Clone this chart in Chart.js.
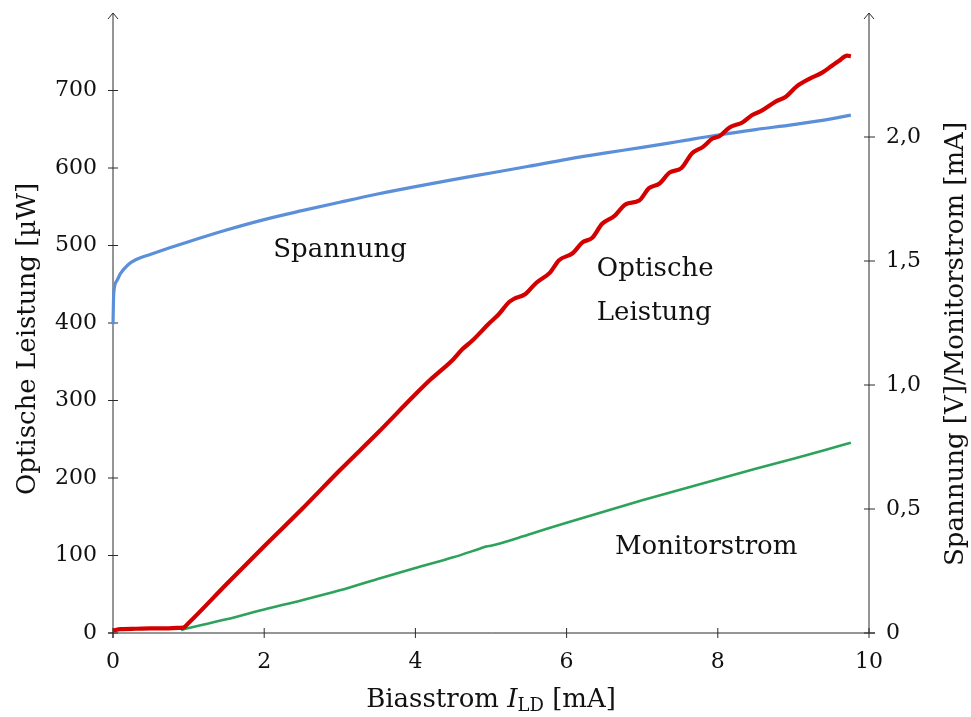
<!DOCTYPE html>
<html>
<head>
<meta charset="utf-8">
<script src="https://cdn.jsdelivr.net/npm/chart.js@4/dist/chart.umd.min.js"></script>
<style>
  html, body { margin: 0; padding: 0; background: #fff; }
  canvas { display: block; }
</style>
</head>
<body>
<canvas id="chart" width="971" height="717"></canvas>
<script>
// Laser diode characteristic: optical output power, forward voltage and
// monitor photodiode current versus bias current.

// Optical power [µW] (left axis)
const biasOptical = [0, 0.1, 0.3, 0.5, 0.7, 0.85, 0.93, 1.0, 1.5, 2.0, 2.5, 3.0, 3.5, 4.0, 4.2, 4.5,
  4.62, 4.75, 4.98, 5.1, 5.24, 5.3, 5.45, 5.6, 5.78, 5.9, 6.08, 6.21, 6.34, 6.47, 6.63, 6.78, 6.96,
  7.09, 7.23, 7.36, 7.52, 7.66, 7.8, 7.93, 8.02, 8.15, 8.33, 8.45, 8.58, 8.77, 8.9, 9.04, 9.21,
  9.38, 9.51, 9.6, 9.71, 9.76];
const opticalPower = [3, 5, 5.5, 6, 6, 6.5, 7, 13, 63, 112, 160, 210, 258, 308, 327, 353,
  366, 377, 400, 411, 427, 431, 437, 452, 465, 481, 490, 504, 510, 528, 538, 553, 558,
  574, 580, 594, 600, 619, 627, 638, 641, 652, 659, 668, 674, 686, 692, 705, 715,
  723, 732, 738, 745, 744];

// Forward voltage [V] (right axis)
const biasVoltage = [0, 0.01, 0.05, 0.1, 0.2, 0.3, 0.5, 0.75, 1.0, 1.5, 2.0, 2.5, 3.0, 3.5,
  4.0, 4.5, 5.0, 5.5, 6.0, 6.5, 7.0, 7.5, 8.0, 8.5, 9.0, 9.5, 9.76];
const voltage = [1.245, 1.37, 1.42, 1.45, 1.485, 1.505, 1.527, 1.553, 1.578, 1.625, 1.667,
  1.703, 1.737, 1.77, 1.80, 1.828, 1.855, 1.882, 1.91, 1.935, 1.958, 1.983, 2.008, 2.03, 2.05,
  2.073, 2.088];

// Monitor current [mA] (right axis)
const biasMonitor = [0.9, 1.0, 1.5, 2.0, 2.5, 3.0, 3.5, 4.0, 4.5, 4.85, 4.95, 5.0, 5.5, 6.0, 6.5,
  7.0, 7.5, 8.0, 8.5, 9.0, 9.5, 9.76];
const monitorCurrent = [0.012, 0.02, 0.055, 0.095, 0.132, 0.172, 0.218, 0.262, 0.305, 0.34,
  0.35, 0.352, 0.397, 0.445, 0.49, 0.535, 0.578, 0.62, 0.662, 0.703, 0.745, 0.767];

// Axis tick labels
const xTickLabels = ['0', '2', '4', '6', '8', '10'];
const leftTickLabels = ['0', '100', '200', '300', '400', '500', '600', '700'];
const rightTickLabels = ['0', '0,5', '1,0', '1,5', '2,0'];

const SERIF = "'DejaVu Serif', serif";
const TEXT = '#111';

function pairs(xs, ys) { return xs.map((v, i) => ({ x: v, y: ys[i] })); }

// Axis lines with arrow tips, crossing tick marks, titles and curve labels
const axesPlugin = {
  id: 'axesPlugin',
  beforeDatasetsDraw(chart) {
    const { ctx, chartArea: a, scales } = chart;
    const sx = scales.x, sl = scales.y, sr = scales.y1;
    const xL = sx.getPixelForValue(0), xR = sx.getPixelForValue(10);
    const yB = sl.getPixelForValue(0), yT = a.top;
    ctx.save();
    ctx.strokeStyle = '#2a2a2a';
    ctx.lineWidth = 1;
    const seg = (x1, y1, x2, y2) => { ctx.beginPath(); ctx.moveTo(x1, y1); ctx.lineTo(x2, y2); ctx.stroke(); };
    // axis lines
    seg(xL - 5, yB, xR + 6, yB);
    seg(xL, yB + 5, xL, yT);
    seg(xR, yB, xR, yT);
    // arrow tips
    [xL, xR].forEach(px => {
      ctx.beginPath();
      ctx.moveTo(px - 5, yT + 6); ctx.lineTo(px, yT); ctx.lineTo(px + 5, yT + 6);
      ctx.stroke();
    });
    // tick marks crossing the axes
    sx.ticks.forEach(t => { const p = sx.getPixelForValue(t.value); seg(p, yB - 5, p, yB + 5); });
    sl.ticks.forEach(t => { const p = sl.getPixelForValue(t.value); seg(xL - 5, p, xL + 5, p); });
    sr.ticks.forEach(t => { const p = sr.getPixelForValue(t.value); seg(xR - 5, p, xR + 6, p); });
    ctx.restore();
  },
  afterDraw(chart) {
    const { ctx, chartArea: a, scales } = chart;
    const sx = scales.x, sl = scales.y;
    ctx.save();
    ctx.fillStyle = TEXT;
    ctx.textBaseline = 'middle';

    // x-axis title: Biasstrom I_LD [mA]
    const main = '26px ' + SERIF, ital = 'italic 26px ' + SERIF, sub = '18px ' + SERIF;
    const parts = [
      { t: 'Biasstrom ', f: main, dy: 0 },
      { t: 'I', f: ital, dy: 0 },
      { t: 'LD', f: sub, dy: 6 },
      { t: ' [mA]', f: main, dy: 0 }
    ];
    let total = 0;
    parts.forEach(p => { ctx.font = p.f; p.w = ctx.measureText(p.t).width; total += p.w; });
    let cx = (a.left + a.right) / 2 - total / 2;
    const ty = 700;
    ctx.textAlign = 'left';
    parts.forEach(p => { ctx.font = p.f; ctx.fillText(p.t, cx, ty + p.dy); cx += p.w; });

    // left y title
    ctx.font = main;
    ctx.textAlign = 'center';
    ctx.save();
    ctx.translate(28, 339);
    ctx.rotate(-Math.PI / 2);
    ctx.fillText('Optische Leistung [µW]', 0, 0);
    ctx.restore();

    // right y title
    ctx.save();
    ctx.translate(956, 344);
    ctx.rotate(-Math.PI / 2);
    ctx.fillText('Spannung [V]/Monitorstrom [mA]', 0, 0);
    ctx.restore();

    // curve labels
    ctx.font = main;
    ctx.textAlign = 'left';
    const put = (txt, xv, yv) => ctx.fillText(txt, sx.getPixelForValue(xv), sl.getPixelForValue(yv));
    put('Spannung', 2.12, 494);
    put('Optische', 6.4, 470);
    put('Leistung', 6.4, 412);
    put('Monitorstrom', 6.64, 111);
    ctx.restore();
  }
};

function noPadVertical(s, w) {
  s.width = w;
  s.paddingTop = 0;
  s.paddingBottom = 0;
}

new Chart(document.getElementById('chart'), {
  type: 'line',
  data: {
    datasets: [
      {
        label: 'Optische Leistung',
        data: pairs(biasOptical, opticalPower),
        yAxisID: 'y',
        borderColor: '#d40000',
        borderWidth: 4.2,
        pointRadius: 0,
        cubicInterpolationMode: 'monotone',
        clip: false,
        order: 1
      },
      {
        label: 'Spannung',
        data: pairs(biasVoltage, voltage),
        yAxisID: 'y1',
        borderColor: '#5b8fd9',
        borderWidth: 3.2,
        pointRadius: 0,
        cubicInterpolationMode: 'monotone',
        clip: false,
        order: 2
      },
      {
        label: 'Monitorstrom',
        data: pairs(biasMonitor, monitorCurrent),
        yAxisID: 'y1',
        borderColor: '#2ca25a',
        borderWidth: 2.6,
        pointRadius: 0,
        cubicInterpolationMode: 'monotone',
        clip: false,
        order: 3
      }
    ]
  },
  options: {
    responsive: false,
    animation: false,
    devicePixelRatio: 1,
    layout: { padding: { top: 13, left: 0, right: 0, bottom: 0 } },
    plugins: { legend: { display: false }, tooltip: { enabled: false } },
    scales: {
      x: {
        type: 'linear',
        min: 0, max: 10,
        grid: { display: false, drawTicks: false },
        border: { display: false },
        ticks: {
          stepSize: 2,
          maxRotation: 0,
          padding: 16,
          color: TEXT,
          font: { family: SERIF, size: 22 },
          callback: (v) => xTickLabels[Math.round(v / 2)]
        },
        afterFit: (s) => { s.height = 84; s.paddingLeft = 0; s.paddingRight = 0; }
      },
      y: {
        position: 'left',
        min: 0, max: 800,
        grid: { display: false, drawTicks: false },
        border: { display: false },
        ticks: {
          stepSize: 100,
          padding: 16,
          color: TEXT,
          font: { family: SERIF, size: 22 },
          callback: (v) => leftTickLabels[Math.round(v / 100)]
        },
        afterBuildTicks: (s) => { s.ticks = s.ticks.filter(t => t.value < 800); },
        afterFit: (s) => noPadVertical(s, 113)
      },
      y1: {
        position: 'right',
        min: 0, max: 2.5,
        grid: { display: false, drawTicks: false },
        border: { display: false },
        ticks: {
          stepSize: 0.5,
          padding: 17,
          color: TEXT,
          font: { family: SERIF, size: 22 },
          callback: (v) => rightTickLabels[Math.round(v / 0.5)]
        },
        afterBuildTicks: (s) => { s.ticks = s.ticks.filter(t => t.value < 2.5); },
        afterFit: (s) => noPadVertical(s, 102)
      }
    }
  },
  plugins: [axesPlugin]
});
</script>
</body>
</html>
